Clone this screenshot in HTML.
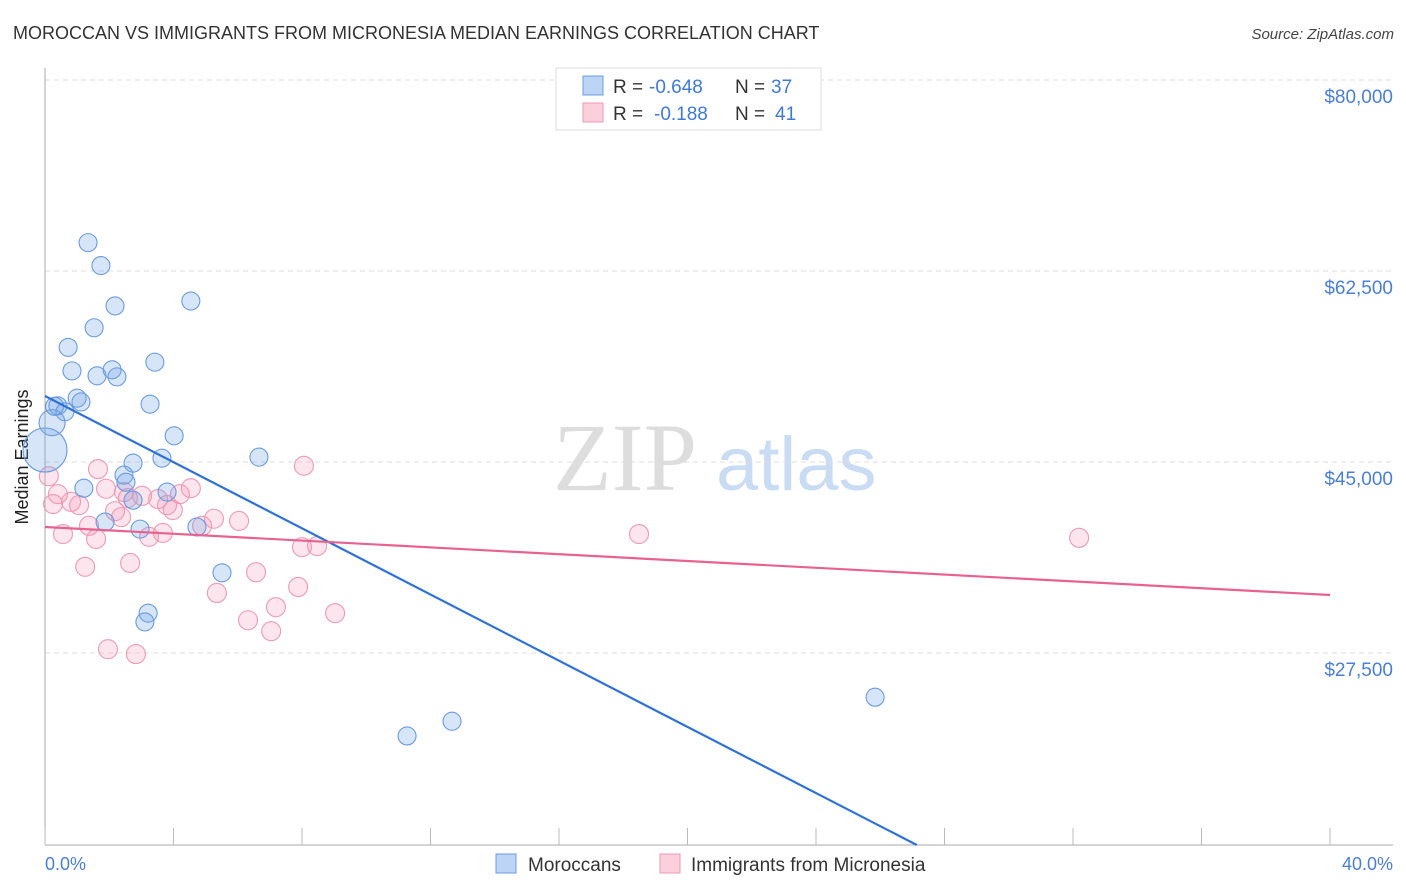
<!DOCTYPE html>
<html><head><meta charset="utf-8"><style>
body{margin:0;background:#fff;font-family:"Liberation Sans",sans-serif}
svg{display:block}
</style></head><body>
<svg width="1406" height="892" viewBox="0 0 1406 892">
<text x="13" y="39" font-size="18" fill="#333">MOROCCAN VS IMMIGRANTS FROM MICRONESIA MEDIAN EARNINGS CORRELATION CHART</text>
<text x="1394" y="39" font-size="15" fill="#444" font-style="italic" text-anchor="end">Source: ZipAtlas.com</text>
<g>
<text x="553" y="490" font-size="96" font-family="Liberation Serif,serif" fill="#ddd">ZIP</text>
<text x="716" y="490" font-size="76" fill="#c9dcf3">atlas</text>
</g>
<g id="grid"></g>
<line x1="45" y1="68" x2="45" y2="845" stroke="#aaa"/>
<line x1="45" y1="845" x2="1393" y2="845" stroke="#aaa"/>
<g id="xticks"></g>
<text x="28" y="457" font-size="18" fill="#222" text-anchor="middle" transform="rotate(-90 28 457)">Median Earnings</text>
<text x="45" y="870" font-size="18" fill="#4a7fd6">0.0%</text>
<text x="1393" y="870" font-size="18" fill="#4a7fd6" text-anchor="end">40.0%</text>
<g id="pts"></g>
<g id="lines"></g>
<g>
<rect x="556" y="68" width="265" height="62" fill="#fff" stroke="#ddd"/>
<rect x="583" y="76" width="20" height="19" fill="#bcd5f5" stroke="#6a9be0"/>
<rect x="583" y="103" width="20" height="19" fill="#fbd0dc" stroke="#ee9ab5"/>
<text x="613" y="93" font-size="19" fill="#333">R =</text>
<text x="649" y="93" font-size="19" fill="#3d7ad8">-0.648</text>
<text x="735" y="93" font-size="19" fill="#333">N =</text>
<text x="771" y="93" font-size="19" fill="#3d7ad8">37</text>
<text x="613" y="120" font-size="19" fill="#333">R =</text>
<text x="654" y="120" font-size="19" fill="#3d7ad8">-0.188</text>
<text x="735" y="120" font-size="19" fill="#333">N =</text>
<text x="775" y="120" font-size="19" fill="#3d7ad8">41</text>
</g>
<g>
<rect x="496" y="854" width="20" height="19" fill="#bcd5f5" stroke="#6a9be0"/>
<text x="528" y="871" font-size="19" fill="#333">Moroccans</text>
</g>
<g>
<rect x="660" y="854" width="20" height="19" fill="#fbd0dc" stroke="#ee9ab5"/>
<text x="691" y="871" font-size="19" fill="#333">Immigrants from Micronesia</text>
</g>
</svg>
<script>
const yTicks=[80000,62500,45000,27500];
const yTickLabels=["$80,000","$62,500","$45,000","$27,500"];
const xTicks=[0,4,8,12,16,20,24,28,32,36,40];
const blueX=[1.34,1.74,2.18,4.54,1.53,0.72,3.42,0.84,2.09,1.62,2.24,1.0,1.12,3.27,0.40,0.62,0.22,0,4.02,6.66,3.64,2.74,2.46,2.52,1.21,3.80,2.74,1.87,2.96,4.73,5.51,3.21,3.11,11.27,12.67,25.84,0.3];
const blueY=[65100,63000,59300,59750,57300,55500,54150,53350,53450,52900,52800,50850,50500,50300,50150,49600,48600,46100,47400,45450,45350,44900,43800,43150,42600,42250,41500,39500,38850,39050,34850,31150,30350,19900,21250,23450,50100];
const blueR=[9,9,9,9,9,9,9,9,9,9,9,9,9,9,9,9,13,22,9,9,9,9,9,9,9,9,9,9,9,9,9,9,9,9,9,9,9];
const pinkX=[0.12,1.65,8.06,0.40,0.25,0.81,1.06,1.90,2.46,3.02,3.52,4.20,4.54,3.80,3.98,2.18,2.37,1.37,0.56,1.59,3.24,3.67,4.89,5.26,6.04,8.00,8.47,1.25,2.65,5.35,6.57,7.88,9.03,7.19,6.32,7.04,1.96,2.83,18.49,32.19,2.58];
const pinkY=[43700,44350,44650,42050,41150,41350,41050,42550,42250,41900,41600,42050,42600,41050,40600,40500,39950,39150,38400,37950,38150,38500,39150,39800,39600,37200,37300,35400,35750,33000,34900,33550,31150,31700,30500,29500,27850,27400,38400,38050,41700];
const blueTrend=[51050,-1516];
const pinkTrend=[39045,-155.75];
const X=v=>45+v*32.125, Y=v=>80+(80000-v)*191/17500;
const NS="http://www.w3.org/2000/svg";
function mk(t,a,p){const e=document.createElementNS(NS,t);for(const k in a)e.setAttribute(k,a[k]);p.appendChild(e);return e;}
const grid=document.getElementById('grid');
yTicks.forEach((v,i)=>{
 const l=mk('line',{x1:45,x2:1393,y1:Y(v),y2:Y(v),stroke:'#ddd','stroke-dasharray':'5,4'},grid);
 
 
 const t=mk('text',{x:1393,y:Y(v)+23,'font-size':19,fill:'#4a7fd6','text-anchor':'end'},grid);
 t.textContent=yTickLabels[i];
 
 
});
const xt=document.getElementById('xticks');
xTicks.forEach(v=>{
 const l=mk('line',{x1:X(v),x2:X(v),y1:828,y2:845,stroke:'#bbb'},xt);
 
 
});
const pts=document.getElementById('pts');
pinkX.forEach((x,i)=>{
 const c=mk('circle',{cx:X(x),cy:Y(pinkY[i]),r:9.5,fill:'rgba(242,150,180,0.25)',stroke:'#ee9ab5','stroke-width':1.1},pts);
 
 
});
blueX.forEach((x,i)=>{
 const c=mk('circle',{cx:X(x),cy:Y(blueY[i]),r:blueR[i],fill:'rgba(110,160,230,0.28)',stroke:'#6a9be0','stroke-width':1.1},pts);
 
 
});
const lines=document.getElementById('lines');
const bx2=(80000-(845-80)*17500/191-blueTrend[0])/blueTrend[1];
const bl=mk('line',{x1:X(0),y1:Y(blueTrend[0]),x2:X(bx2),y2:Y(blueTrend[0]+blueTrend[1]*bx2),stroke:'#2f72d6','stroke-width':2.2},lines);


const pl=mk('line',{x1:X(0),y1:Y(pinkTrend[0]),x2:X(40),y2:Y(pinkTrend[0]+pinkTrend[1]*40),stroke:'#e8628f','stroke-width':2.2},lines);


</script>
</body></html>
